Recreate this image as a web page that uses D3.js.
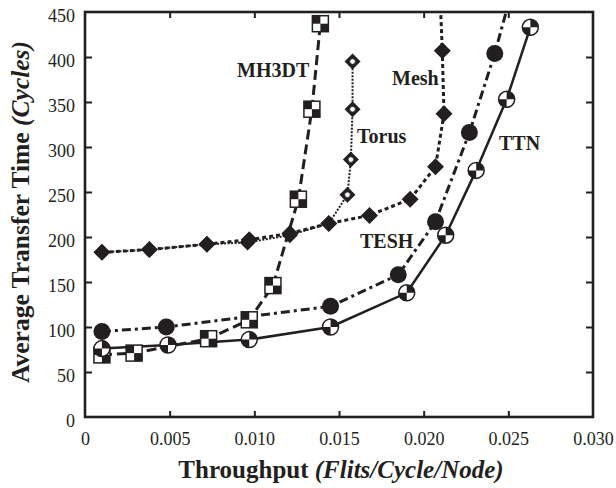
<!DOCTYPE html>
<html>
<head>
<meta charset="utf-8">
<script src="https://cdn.jsdelivr.net/npm/d3@7"></script>
<style>
  body { margin: 0; background: #fff; }
  svg { display: block; }
  text { font-family: "Liberation Serif", "Times New Roman", serif; fill: #231f20; }
</style>
</head>
<body>
<svg id="chart" width="616" height="488"></svg>
<script>
// throughput (flits/cycle/node) and transfer time (cycles)
var ttnX   = [0.0010, 0.0049, 0.0097, 0.0145, 0.0190, 0.0213, 0.0231, 0.0249, 0.0263];
var ttnY   = [76, 80, 86, 100, 138, 202, 274, 353, 433];
var teshX  = [0.0010, 0.0048, 0.0145, 0.0185, 0.0207, 0.0227, 0.0242, 0.0256];
var teshY  = [95, 100, 123, 158, 217, 316, 404, 500];
var meshX  = [0.0010, 0.0038, 0.0072, 0.0097, 0.0121, 0.0144, 0.0168, 0.0192, 0.0207, 0.0212, 0.0211, 0.0209];
var meshY  = [183, 186, 192, 197, 204, 215, 224, 242, 278, 337, 407, 500];
var torusX = [0.0010, 0.0038, 0.0072, 0.0096, 0.0121, 0.0144, 0.0155, 0.0157, 0.0158, 0.0158];
var torusY = [183, 186, 192, 194, 202, 215, 247, 286, 342, 395];
var mh3dtX = [0.0010, 0.0029, 0.0073, 0.0097, 0.0111, 0.0126, 0.0134, 0.0139];
var mh3dtY = [69, 71, 87, 108, 146, 242, 342, 437];

var xTicks = [0, 0.005, 0.010, 0.015, 0.020, 0.025, 0.030];
var yTicks = [0, 50, 100, 150, 200, 250, 300, 350, 400, 450];

var svg = d3.select('#chart');
var x = d3.scaleLinear().domain([0, 0.030]).range([85, 593]);
var y = d3.scaleLinear().domain([0, 450]).range([417, 12]);

function zip(xs, ys) {
  return xs.map(function(v, i) { return [v, ys[i]]; });
}

svg.append('clipPath').attr('id', 'plot')
  .append('rect').attr('x', 85).attr('y', 12).attr('width', 508).attr('height', 405);

// axes, ticks drawn inside the frame
var fmt = function(d) { return d === 0 ? '0' : d3.format('.3f')(d); };

var axBottom = svg.append('g').attr('transform', 'translate(0,417)')
  .call(d3.axisBottom(x).tickValues(xTicks).tickFormat(fmt).tickSize(-6).tickPadding(15));
var axLeft = svg.append('g').attr('transform', 'translate(85,0)')
  .call(d3.axisLeft(y).tickValues(yTicks).tickSize(-7).tickPadding(10));
var axTop = svg.append('g').attr('transform', 'translate(0,12)')
  .call(d3.axisTop(x).tickValues(xTicks.slice(1, -1)).tickFormat('').tickSize(-6));
var axRight = svg.append('g').attr('transform', 'translate(593,0)')
  .call(d3.axisRight(y).tickValues(yTicks.slice(1, -1)).tickFormat('').tickSize(-7));

[axBottom, axLeft, axTop, axRight].forEach(function(g) {
  g.select('.domain').remove();
  g.selectAll('line').attr('stroke', '#231f20').attr('stroke-width', 2);
  g.selectAll('text').attr('font-size', 18).attr('font-family', '"Liberation Serif", serif').attr('fill', '#231f20');
});
axLeft.selectAll('text').attr('dy', '0.52em');
axLeft.selectAll('.tick').filter(function(d) { return d === 0 || d === 450; }).select('line').remove();
axBottom.selectAll('.tick').filter(function(d) { return d === 0 || d === 0.030; }).select('line').remove();

svg.append('rect').attr('x', 85).attr('y', 12).attr('width', 508).attr('height', 405)
  .attr('fill', 'none').attr('stroke', '#231f20').attr('stroke-width', 2.6);

// lines
var line = d3.line().x(function(d) { return x(d[0]); }).y(function(d) { return y(d[1]); });
var lines = svg.append('g').attr('clip-path', 'url(#plot)');

function drawLine(data, width, dash) {
  lines.append('path').datum(data).attr('d', line)
    .attr('fill', 'none').attr('stroke', '#231f20')
    .attr('stroke-width', width).attr('stroke-dasharray', dash);
}

drawLine(zip(torusX, torusY), 2, '2,1.5');
drawLine(zip(meshX, meshY), 3, '4,3');
drawLine(zip(mh3dtX, mh3dtY), 3, '10,5');
drawLine(zip(teshX, teshY), 3, '9,4,3,4');
drawLine(zip(ttnX, ttnY), 2.5, null);

// markers
var marks = svg.append('g').attr('clip-path', 'url(#plot)');
function diamondPath(r) {
  return 'M0,' + (-r) + 'L' + r + ',0L0,' + r + 'L' + (-r) + ',0Z';
}
function place(xs, ys) {
  return marks.append('g').selectAll('g').data(zip(xs, ys)).join('g')
    .attr('transform', function(d) { return 'translate(' + x(d[0]) + ',' + y(d[1]) + ')'; });
}

var torus = place(torusX, torusY);
torus.append('path').attr('d', diamondPath(8)).attr('fill', '#231f20');
torus.append('circle').attr('r', 2.8).attr('fill', '#fff').attr('stroke', '#231f20').attr('stroke-width', 0.8);

var mesh = place(meshX, meshY);
mesh.append('path').attr('d', diamondPath(8.5)).attr('fill', '#231f20');

var mh = place(mh3dtX, mh3dtY);
mh.append('rect').attr('x', -8).attr('y', -8).attr('width', 16).attr('height', 16)
  .attr('fill', '#fff').attr('stroke', '#231f20').attr('stroke-width', 1.5);
mh.append('rect').attr('x', -8).attr('y', -8).attr('width', 8).attr('height', 8).attr('fill', '#231f20');
mh.append('rect').attr('x', 0).attr('y', 0).attr('width', 8).attr('height', 8).attr('fill', '#231f20');

var tesh = place(teshX, teshY);
tesh.append('circle').attr('r', 8.5).attr('fill', '#231f20');

var arc = d3.arc().innerRadius(0).outerRadius(8);
var ttn = place(ttnX, ttnY);
ttn.append('circle').attr('r', 8).attr('fill', '#fff').attr('stroke', '#231f20').attr('stroke-width', 1.5);
ttn.append('path').attr('d', arc({ startAngle: 0, endAngle: Math.PI / 2 })).attr('fill', '#231f20');
ttn.append('path').attr('d', arc({ startAngle: Math.PI, endAngle: Math.PI * 1.5 })).attr('fill', '#231f20');

// series labels
var seriesLabels = [['MH3DT', 237, 77], ['Mesh', 392, 85], ['Torus', 357, 143], ['TESH', 360, 248], ['TTN', 499, 150]];
svg.selectAll('.series-label').data(seriesLabels).join('text')
  .attr('class', 'series-label')
  .attr('x', function(d) { return d[1]; }).attr('y', function(d) { return d[2]; })
  .attr('font-size', 20).attr('font-weight', 'bold')
  .text(function(d) { return d[0]; });

// axis titles
var xt = svg.append('text').attr('x', 341).attr('y', 478).attr('text-anchor', 'middle')
  .attr('font-size', 25).attr('font-weight', 'bold');
xt.append('tspan').text('Throughput ');
xt.append('tspan').attr('font-style', 'italic').text('(Flits/Cycle/Node)');

var yt = svg.append('text').attr('transform', 'translate(29,212) rotate(-90)').attr('text-anchor', 'middle')
  .attr('font-size', 25.5).attr('font-weight', 'bold');
yt.append('tspan').text('Average Transfer Time ');
yt.append('tspan').attr('font-style', 'italic').text('(Cycles)');
</script>
</body>
</html>
